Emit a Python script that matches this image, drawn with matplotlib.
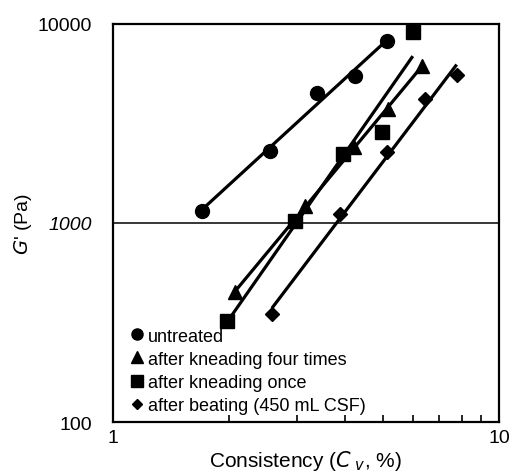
import numpy as np
import matplotlib.pyplot as plt
from matplotlib.ticker import FixedLocator, NullLocator, NullFormatter

plt.rcParams['font.family'] = ['Liberation Sans', 'DejaVu Sans']

# consistency Cv (%) and storage modulus G' (Pa)
untreated_cv = [1.70, 2.55, 3.37, 4.24, 5.12]
untreated_g = [1153, 2307, 4487, 5500, 8246]
four_cv = [2.07, 3.14, 4.20, 5.17, 6.31]
four_g = [449, 1216, 2400, 3741, 6170]
once_cv = [1.97, 2.96, 3.95, 4.97, 5.98]
once_g = [323, 1027, 2222, 2857, 9085]
beat_cv = [2.58, 3.87, 5.14, 6.43, 7.77]
beat_g = [349, 1110, 2281, 4200, 5541]

labels = ['untreated', 'after kneading four times', 'after kneading once',
          'after beating (450 mL CSF)']
markers = ['o', '^', 's', 'D']
sizes = [10, 10, 10, 7]

fig = plt.figure(figsize=(5.13, 4.77), dpi=100)
ax = fig.add_axes([0.2203, 0.1132, 0.7524, 0.8344])

series = [(untreated_cv, untreated_g), (four_cv, four_g),
          (once_cv, once_g), (beat_cv, beat_g)]

for (cv, g), lab, m, ms in zip(series, labels, markers, sizes):
    lx = np.log10(cv)
    ly = np.log10(g)
    k, b = np.polyfit(lx, ly, 1)
    xs = np.array([lx.min(), lx.max()])
    ax.plot(10 ** xs, 10 ** (k * xs + b), color='black', lw=2.3,
            solid_capstyle='butt', zorder=2)
    ax.plot(cv, g, ls='none', marker=m, ms=ms, color='black', label=lab,
            zorder=3)

ax.set_xscale('log')
ax.set_yscale('log')
ax.set_xlim(1, 10)
ax.set_ylim(100, 10000)
ax.axhline(1000, color='black', lw=1.1, zorder=1)

for s in ax.spines.values():
    s.set_linewidth(1.6)

ax.xaxis.set_major_locator(FixedLocator([1, 10]))
ax.xaxis.set_minor_locator(FixedLocator([2, 3, 4, 5, 6, 7, 8, 9]))
ax.xaxis.set_minor_formatter(NullFormatter())
ax.set_xticklabels(['1', '10'])
ax.tick_params(axis='x', which='major', length=0, pad=5, labelsize=14)
ax.tick_params(axis='x', which='minor', direction='in', length=5, width=1.2)

ax.yaxis.set_major_locator(FixedLocator([100, 1000, 10000]))
ax.yaxis.set_minor_locator(NullLocator())
ax.set_yticklabels(['100', '1000', '10000'])
ax.get_yticklabels()[1].set_style('italic')
ax.tick_params(axis='y', which='major', length=0, pad=15, labelsize=14)

ax.set_xlabel(r"Consistency ($C$$_{\ v}$, %)", fontsize=15)
ax.set_ylabel(r"$G$' (Pa)", fontsize=14)
ax.xaxis.set_label_coords(0.5, -0.065)
ax.yaxis.set_label_coords(-0.205, 0.5)

leg = ax.legend(loc='lower left', bbox_to_anchor=(0.05, 0.02), frameon=False,
                fontsize=13, handlelength=0.5, handletextpad=0.35,
                labelspacing=0.34, borderpad=0, borderaxespad=0,
                markerscale=0.8)

fig.savefig('out.png', dpi=100)
